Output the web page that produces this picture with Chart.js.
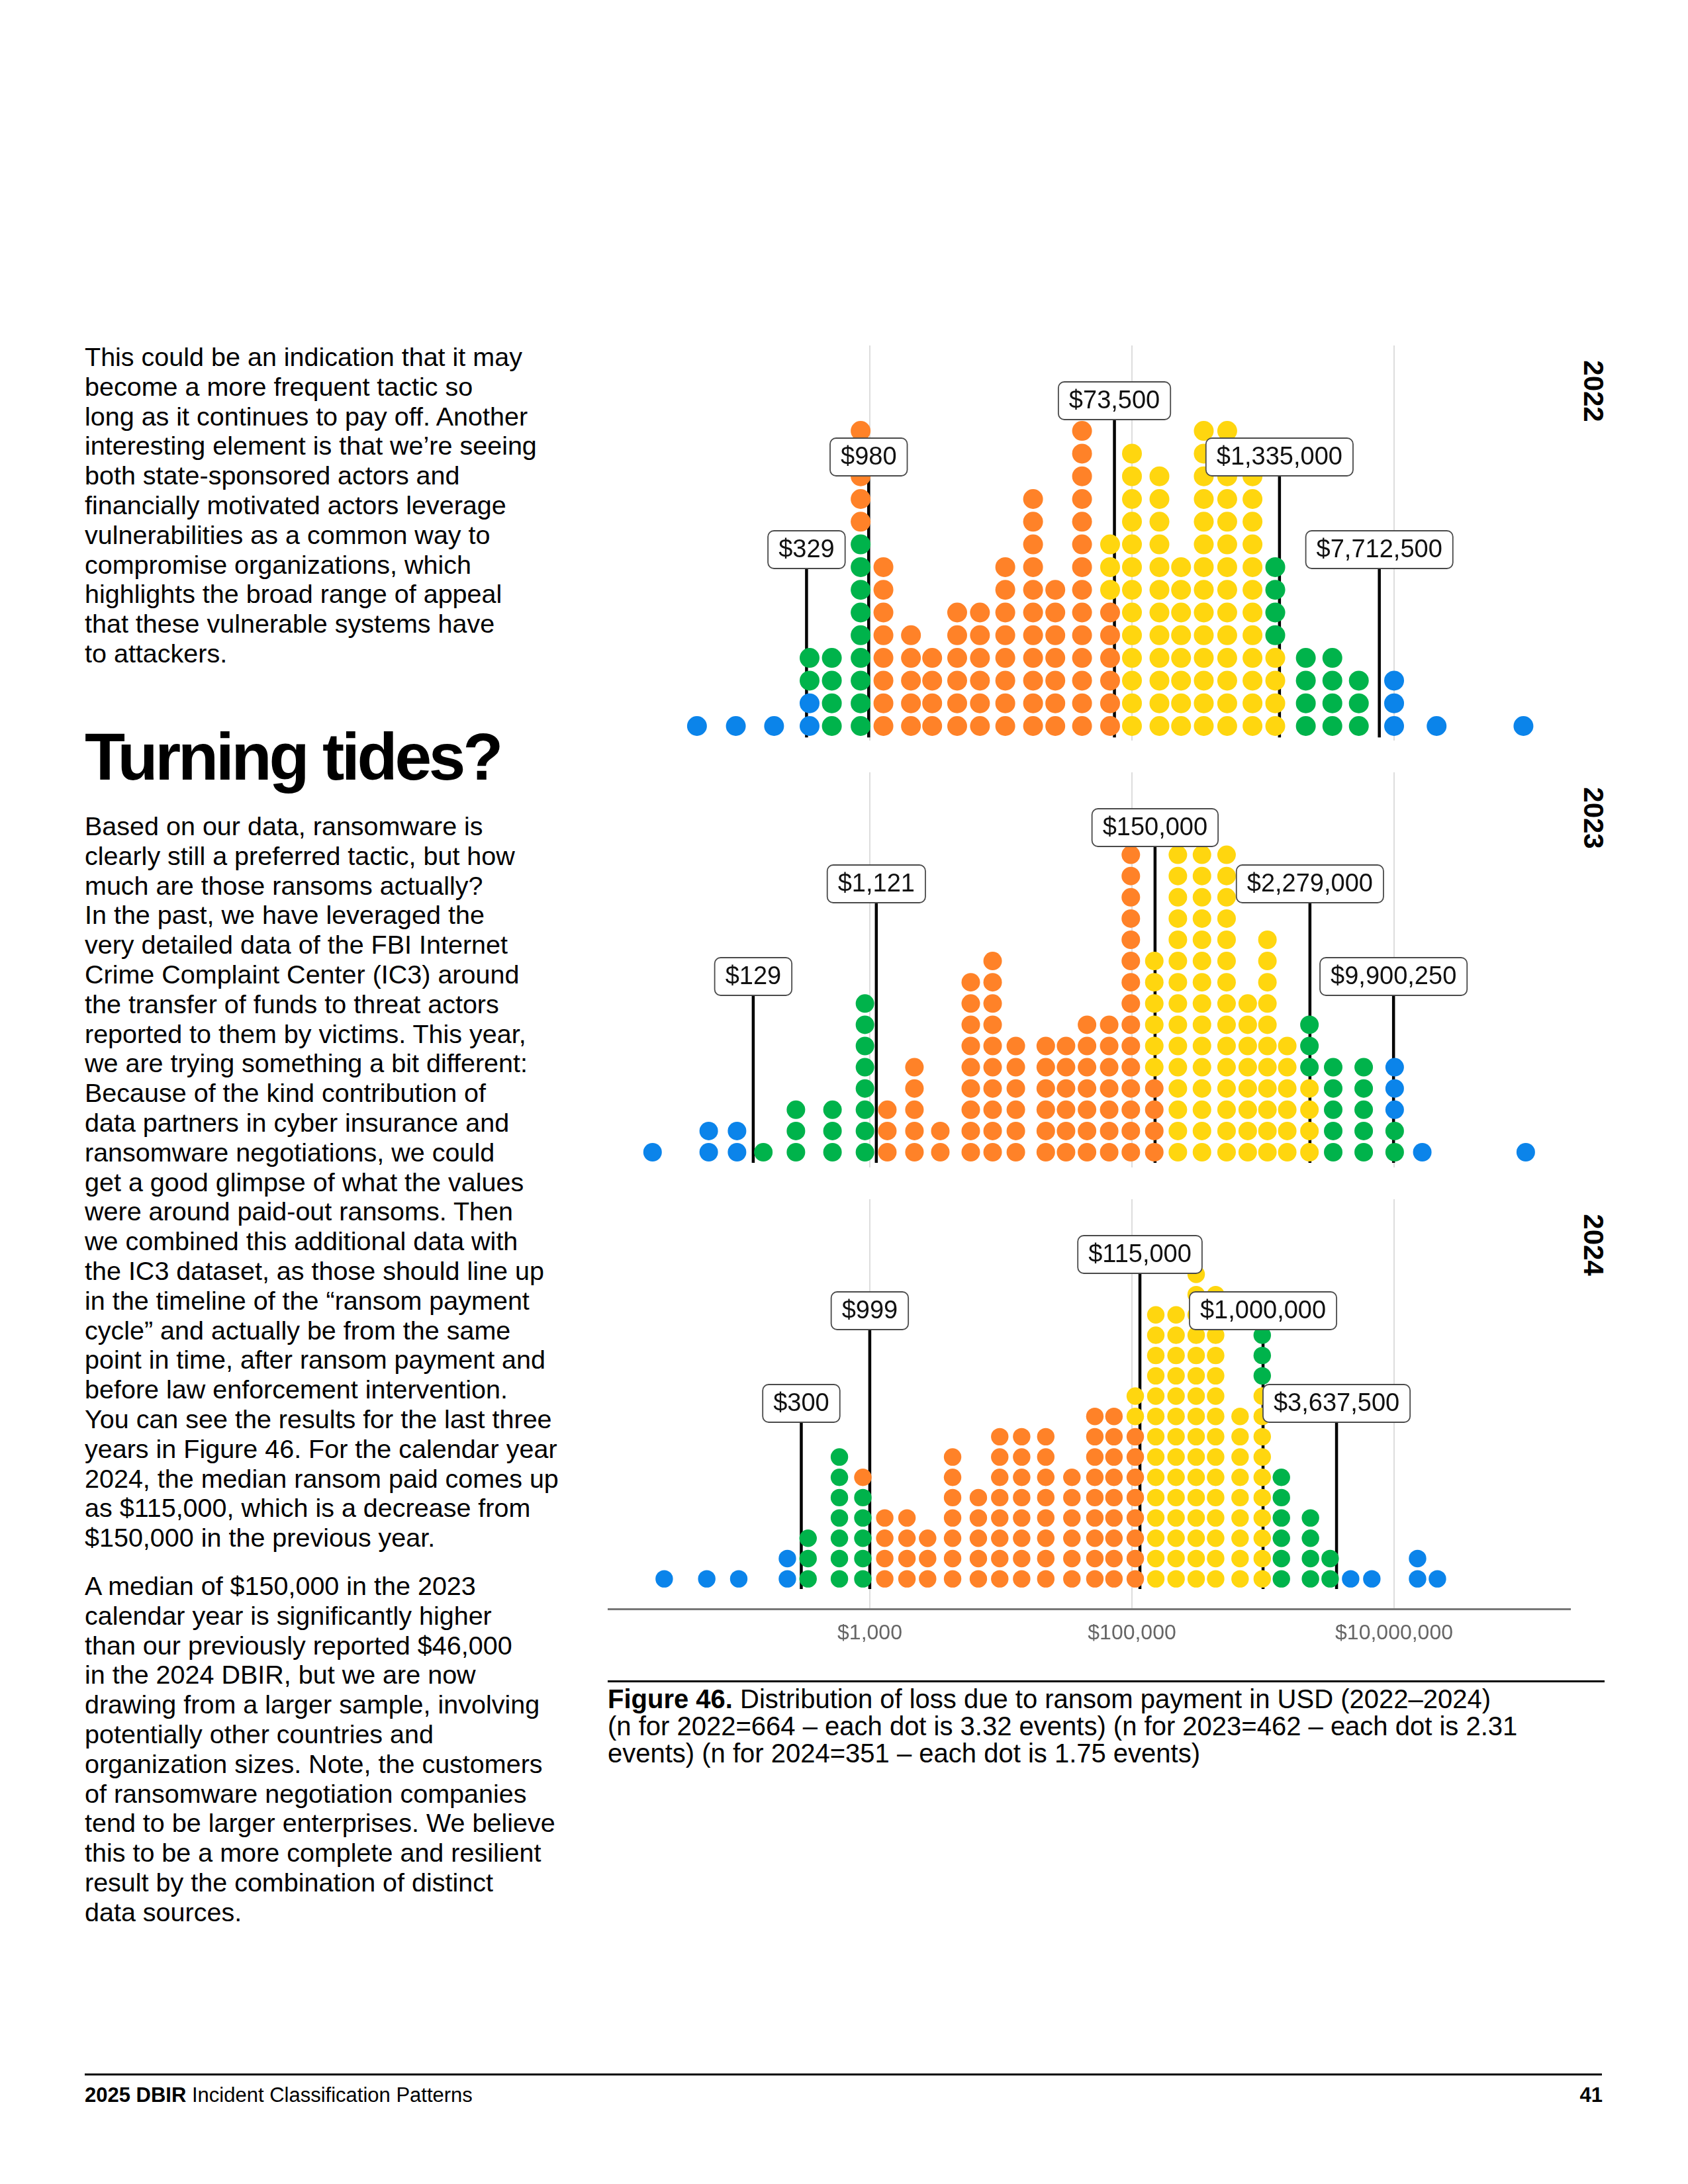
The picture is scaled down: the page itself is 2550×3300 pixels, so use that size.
<!DOCTYPE html>
<html lang="en">
<head>
<meta charset="UTF-8">
<title>Figure 46 - Ransom payments</title>
<script src="https://cdn.jsdelivr.net/npm/chart.js"></script>
<style>
  body { margin: 0; width: 2550px; height: 3300px; background: #fff; position: relative;
         font-family: "Liberation Sans", Arial, sans-serif; color: #000; }
  .para { position: absolute; left: 128px; font-size: 39.5px; line-height: 44.8px; white-space: nowrap; }
  h2 { position: absolute; left: 128px; top: 1093px; margin: 0; font-size: 100px; line-height: 100px;
       font-weight: bold; letter-spacing: -4.2px; }
  canvas { position: absolute; }
  .year { position: absolute; left: 2407px; font-weight: bold; font-size: 42px; line-height: 42px;
          transform: translate(-50%, -50%) rotate(90deg); white-space: nowrap; }
  .rule { position: absolute; height: 3px; background: #000; }
  .caption { position: absolute; left: 918px; top: 2547px; font-size: 40px; line-height: 40.8px; white-space: nowrap; }
  .footer { position: absolute; top: 3149px; font-size: 31px; line-height: 34px; }
</style>
</head>
<body>

<div class="para" style="top:517px">This could be an indication that it may<br>become a more frequent tactic so<br>long as it continues to pay off. Another<br>interesting element is that we’re seeing<br>both state-sponsored actors and<br>financially motivated actors leverage<br>vulnerabilities as a common way to<br>compromise organizations, which<br>highlights the broad range of appeal<br>that these vulnerable systems have<br>to attackers.</div>

<h2>Turning tides?</h2>

<div class="para" style="top:1226px">Based on our data, ransomware is<br>clearly still a preferred tactic, but how<br>much are those ransoms actually?<br>In the past, we have leveraged the<br>very detailed data of the FBI Internet<br>Crime Complaint Center (IC3) around<br>the transfer of funds to threat actors<br>reported to them by victims. This year,<br>we are trying something a bit different:<br>Because of the kind contribution of<br>data partners in cyber insurance and<br>ransomware negotiations, we could<br>get a good glimpse of what the values<br>were around paid-out ransoms. Then<br>we combined this additional data with<br>the IC3 dataset, as those should line up<br>in the timeline of the “ransom payment<br>cycle” and actually be from the same<br>point in time, after ransom payment and<br>before law enforcement intervention.<br>You can see the results for the last three<br>years in Figure 46. For the calendar year<br>2024, the median ransom paid comes up<br>as $115,000, which is a decrease from<br>$150,000 in the previous year.</div>

<div class="para" style="top:2374px">A median of $150,000 in the 2023<br>calendar year is significantly higher<br>than our previously reported $46,000<br>in the 2024 DBIR, but we are now<br>drawing from a larger sample, involving<br>potentially other countries and<br>organization sizes. Note, the customers<br>of ransomware negotiation companies<br>tend to be larger enterprises. We believe<br>this to be a more complete and resilient<br>result by the combination of distinct<br>data sources.</div>

<canvas id="c2022" width="1455" height="597" style="left:918px; top:522px"></canvas>
<canvas id="c2023" width="1455" height="597" style="left:918px; top:1167px"></canvas>
<canvas id="c2024" width="1455" height="692" style="left:918px; top:1812px"></canvas>

<div class="year" style="top:591px">2022</div>
<div class="year" style="top:1236px">2023</div>
<div class="year" style="top:1881px">2024</div>

<div class="rule" style="left:918px; top:2539px; width:1506px"></div>
<div class="caption"><b>Figure 46.</b> Distribution of loss due to ransom payment in USD (2022–2024)<br>(n for 2022=664 – each dot is 3.32 events) (n for 2023=462 – each dot is 2.31<br>events) (n for 2024=351 – each dot is 1.75 events)</div>

<div class="rule" style="left:128px; top:3133px; width:2292px"></div>
<div class="footer" style="left:128px"><b>2025 DBIR</b> Incident Classification Patterns</div>
<div class="footer" style="right:129px; font-weight:bold">41</div>

<script>
  // x position (USD) of each dot column, and how many dots of each colour sit in it
  const cols2022 = [48, 95, 186, 347, 513, 851, 1270, 2060, 2990, 4640, 6920, 10800, 17600, 26000, 41600, 68100,
    100000, 162000, 237000, 353000, 533000, 831000, 1240000, 2120000, 3380000, 5380000, 10000000, 21100000, 97000000];
  const blue2022   = [1,1,1,2,0,0,0,0,0,0,0,0,0,0,0,0,0,0,0,0,0,0,0,0,0,0,3,1,1];
  const green2022  = [0,0,0,2,4,9,0,0,0,0,0,0,0,0,0,0,0,0,0,0,0,0,4,4,4,3,0,0,0];
  const orange2022 = [0,0,0,0,0,5,8,5,4,6,6,8,11,7,14,6,0,0,0,0,0,0,0,0,0,0,0,0,0];
  const yellow2022 = [0,0,0,0,0,0,0,0,0,0,0,0,0,0,0,3,13,12,8,14,14,12,4,0,0,0,0,0,0];
  const marks2022  = [329, 980, 73500, 1335000, 7712500];

  const cols2023 = [22, 59, 97, 154, 273, 519, 918, 1360, 2190, 3450, 5890, 8650, 13000, 22000, 31400, 45400,
    67000, 98000, 148000, 224000, 342000, 527000, 764000, 1080000, 1530000, 2260000, 3430000, 5860000,
    10100000, 16400000, 101000000];
  const blue2023   = [1,2,2,0,0,0,0,0,0,0,0,0,0,0,0,0,0,0,0,0,0,0,0,0,0,0,0,0,3,1,1];
  const green2023  = [0,0,0,1,3,3,8,0,0,0,0,0,0,0,0,0,0,0,0,0,0,0,0,0,0,3,5,5,2,0,0];
  const orange2023 = [0,0,0,0,0,0,0,3,5,2,9,10,6,6,6,7,7,15,4,0,0,0,0,0,0,0,0,0,0,0,0];
  const yellow2023 = [0,0,0,0,0,0,0,0,0,0,0,0,0,0,0,0,0,0,6,15,15,15,8,11,6,4,0,0,0,0,0];
  const marks2023  = [129, 1121, 150000, 2279000, 9900250];

  const cols2024 = [27, 57, 100, 235, 338, 586, 885, 1300, 1920, 2760, 4280, 6730, 9800, 14400, 22000, 34800,
    52100, 72900, 106000, 152000, 217000, 309000, 435000, 668000, 986000, 1380000, 2300000, 3250000,
    4660000, 6760000, 15100000, 21400000];
  const blue2024   = [1,1,1,2,0,0,0,0,0,0,0,0,0,0,0,0,0,0,0,0,0,0,0,0,0,0,0,0,1,1,2,1];
  const green2024  = [0,0,0,0,3,7,5,0,0,0,0,0,0,0,0,0,0,0,0,0,0,0,0,0,3,6,4,2,0,0,0,0];
  const orange2024 = [0,0,0,0,0,0,1,4,4,3,7,5,8,8,8,6,9,9,8,0,0,0,0,0,0,0,0,0,0,0,0,0];
  const yellow2024 = [0,0,0,0,0,0,0,0,0,0,0,0,0,0,0,0,0,0,2,14,14,16,15,9,10,0,0,0,0,0,0,0];
  const marks2024  = [300, 999, 115000, 1000000, 3637500];

  const tickVals = [1000, 100000, 10000000];

  const colors = { blue: '#0b84ea', green: '#00b34b', orange: '#ff8228', yellow: '#ffd60f' };

  // stack dots bottom-up: low side goes blue, green, orange, yellow; high side the other way round
  function buildPoints(cols, counts, median) {
    const pts = { blue: [], green: [], orange: [], yellow: [] };
    cols.forEach((x, i) => {
      const order = x < median ? ['blue', 'green', 'orange', 'yellow'] : ['orange', 'yellow', 'green', 'blue'];
      let row = 0;
      order.forEach(c => {
        for (let k = 0; k < counts[c][i]; k++) pts[c].push({ x: x, y: row++ });
      });
    });
    return pts;
  }

  const tierTop = [280, 140, 55, 140, 280]; // label box top, px below panel top
  const boxH = 57;

  function boxPath(ctx, x, y, w, h, r) {
    ctx.beginPath();
    ctx.moveTo(x + r, y);
    ctx.arcTo(x + w, y, x + w, y + h, r);
    ctx.arcTo(x + w, y + h, x, y + h, r);
    ctx.arcTo(x, y + h, x, y, r);
    ctx.arcTo(x, y, x + w, y, r);
    ctx.closePath();
  }

  const markPlugin = {
    id: 'marks',
    beforeDatasetsDraw(chart, args, opts) {
      const ctx = chart.ctx, xs = chart.scales.x, ys = chart.scales.y;
      ctx.save();
      ctx.strokeStyle = '#000';
      ctx.lineWidth = 4.5;
      opts.values.forEach((v, i) => {
        const px = xs.getPixelForValue(v);
        ctx.beginPath();
        ctx.moveTo(px, chart.chartArea.top + tierTop[i] + boxH);
        ctx.lineTo(px, ys.getPixelForValue(-0.5));
        ctx.stroke();
      });
      ctx.restore();
    },
    afterDatasetsDraw(chart, args, opts) {
      const ctx = chart.ctx, xs = chart.scales.x;
      ctx.save();
      ctx.font = '38px "Liberation Sans", Arial, sans-serif';
      ctx.textAlign = 'center';
      ctx.textBaseline = 'middle';
      opts.values.forEach((v, i) => {
        const label = '$' + v.toLocaleString('en-US');
        const px = xs.getPixelForValue(v);
        const w = ctx.measureText(label).width + 32;
        const top = chart.chartArea.top + tierTop[i];
        boxPath(ctx, px - w / 2, top, w, boxH, 9);
        ctx.fillStyle = '#fff';
        ctx.fill();
        ctx.strokeStyle = '#4a4a4a';
        ctx.lineWidth = 1.8;
        ctx.stroke();
        ctx.fillStyle = '#111';
        ctx.fillText(label, px, top + boxH / 2 + 1);
      });
      ctx.restore();
    }
  };

  const panels = [
    { id: 'c2022', cols: cols2022, counts: { blue: blue2022, green: green2022, orange: orange2022, yellow: yellow2022 },
      marks: marks2022, rowPx: 34.3, radius: 15, area: 597, gap: 22, last: false },
    { id: 'c2023', cols: cols2023, counts: { blue: blue2023, green: green2023, orange: orange2023, yellow: yellow2023 },
      marks: marks2023, rowPx: 32.1, radius: 14, area: 597, gap: 23, last: false },
    { id: 'c2024', cols: cols2024, counts: { blue: blue2024, green: green2024, orange: orange2024, yellow: yellow2024 },
      marks: marks2024, rowPx: 30.7, radius: 13.2, area: 620, gap: 46, last: true }
  ];

  panels.forEach(p => {
    const pts = buildPoints(p.cols, p.counts, p.marks[2]);
    const yMin = -p.gap / p.rowPx;
    new Chart(document.getElementById(p.id), {
      type: 'scatter',
      data: {
        datasets: ['blue', 'green', 'orange', 'yellow'].map(c => ({
          label: c,
          data: pts[c],
          backgroundColor: colors[c],
          borderWidth: 0,
          pointRadius: p.radius,
          pointHoverRadius: p.radius
        }))
      },
      options: {
        responsive: false,
        animation: false,
        events: [],
        layout: { padding: 0, autoPadding: false },
        plugins: {
          legend: { display: false },
          tooltip: { enabled: false },
          marks: { values: p.marks }
        },
        scales: {
          x: {
            type: 'logarithmic',
            min: 10,
            max: 2.23e8,
            afterBuildTicks: s => { s.ticks = tickVals.map(v => ({ value: v })); },
            grid: { color: '#dddddd', lineWidth: 2, drawTicks: false },
            border: { display: p.last, color: '#777', width: 3 },
            ticks: {
              display: p.last,
              padding: 17,
              color: '#666',
              autoSkip: false,
              maxRotation: 0,
              font: { family: '"Liberation Sans", Arial, sans-serif', size: 32 },
              callback: v => '$' + Number(v).toLocaleString('en-US')
            }
          },
          y: {
            display: false,
            bounds: 'data',
            min: yMin,
            max: yMin + p.area / p.rowPx
          }
        }
      },
      plugins: [markPlugin]
    });
  });
</script>
</body>
</html>
